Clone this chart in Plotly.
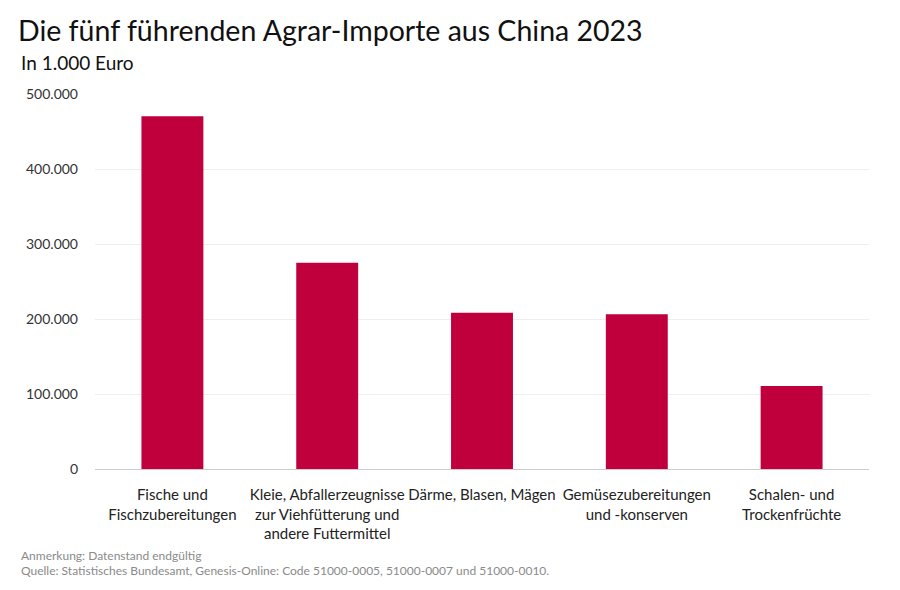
import plotly.graph_objects as go

categories = [
    "Fische und<br>Fischzubereitungen",
    "Kleie, Abfallerzeugnisse<br>zur Viehfütterung und<br>andere Futtermittel",
    "Därme, Blasen, Mägen",
    "Gemüsezubereitungen<br>und -konserven",
    "Schalen- und<br>Trockenfrüchte",
]
values = [470500, 275000, 208300, 206500, 110700]
tick_vals = [0, 100000, 200000, 300000, 400000, 500000]
tick_text = ["0", "100.000", "200.000", "300.000", "400.000", "500.000"]

FONT = "Lato"
BAR = "#C0003C"

# The page body has an 8px margin, so the figure is drawn 8px smaller
W, H = 892, 582

fig = go.Figure(
    go.Bar(x=categories, y=values, marker=dict(color=BAR, line=dict(width=0)),
           hoverinfo="skip")
)

fig.update_layout(
    width=W, height=H,
    margin=dict(l=86.5, r=30.5, t=86, b=121, autoexpand=False),
    paper_bgcolor="white", plot_bgcolor="white",
    bargap=0.6,
    showlegend=False,
    font=dict(family=FONT, color="#222"),
    title=dict(
        text="Die fünf führenden Agrar-Importe aus China 2023",
        x=10 / W, xanchor="left", xref="container",
        y=1 - 23 / H, yanchor="middle", yref="container",
        font=dict(family=FONT, size=28.5, color="#111"),
    ),
)

fig.add_annotation(text="In 1.000 Euro", xref="paper", yref="paper",
                   x=-76.5 / 775, y=1 + 32 / 375, xanchor="left", yanchor="middle",
                   showarrow=False, font=dict(family=FONT, size=19, color="#111"))
fig.add_annotation(text="Anmerkung: Datenstand endgültig", xref="paper", yref="paper",
                   x=-76.5 / 775, y=-86 / 375, xanchor="left", yanchor="middle",
                   showarrow=False, font=dict(family=FONT, size=12, color="#8a8a8a"))
fig.add_annotation(text="Quelle: Statistisches Bundesamt, Genesis-Online: Code 51000-0005, 51000-0007 und 51000-0010.",
                   xref="paper", yref="paper",
                   x=-76.5 / 775, y=-101 / 375, xanchor="left", yanchor="middle",
                   showarrow=False, font=dict(family=FONT, size=12, color="#8a8a8a"))

fig.update_xaxes(
    showgrid=False, showline=True, linecolor="#cccccc", linewidth=1,
    ticks="", tickfont=dict(family=FONT, size=15, color="#222"),
    ticklabelstandoff=12,
)
fig.update_yaxes(
    range=[0, 500000], tickvals=tick_vals, ticktext=tick_text,
    showgrid=True, gridcolor="#eeeeee", gridwidth=1,
    zeroline=False, showline=False, ticks="",
    tickfont=dict(family=FONT, size=14, color="#333"),
    ticklabelstandoff=16,
)

fig.write_html("out.html")
